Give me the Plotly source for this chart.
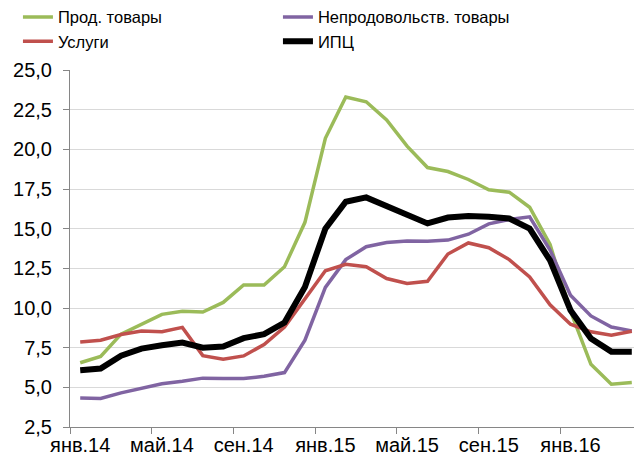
import plotly.graph_objects as go

months = ["янв.14","фев.14","мар.14","апр.14","май.14","июн.14","июл.14","авг.14","сен.14","окт.14","ноя.14","дек.14",
          "янв.15","фев.15","мар.15","апр.15","май.15","июн.15","июл.15","авг.15","сен.15","окт.15","ноя.15","дек.15",
          "янв.16","фев.16","мар.16","апр.16"]
tick_labels = ["янв.14","май.14","сен.14","янв.15","май.15","сен.15","янв.16"]

food = [6.55, 6.95, 8.35, 9.0, 9.6, 9.8, 9.75, 10.35, 11.45, 11.45, 12.6, 15.4,
        20.7, 23.3, 23.0, 21.85, 20.2, 18.85, 18.6, 18.1, 17.45, 17.3, 16.35, 14.0,
        9.8, 6.45, 5.2, 5.3]
nonfood = [4.33, 4.3, 4.65, 4.96, 5.22, 5.38, 5.58, 5.55, 5.55, 5.7, 5.93, 7.97,
           11.3, 13.05, 13.86, 14.13, 14.22, 14.2, 14.28, 14.65, 15.3, 15.58, 15.75, 13.65,
           10.8, 9.5, 8.8, 8.56]
services = [7.86, 7.97, 8.33, 8.55, 8.5, 8.78, 7.0, 6.77, 6.98, 7.7, 8.8, 10.6,
            12.35, 12.75, 12.6, 11.86, 11.54, 11.68, 13.4, 14.1, 13.8, 13.05, 11.96, 10.2,
            8.98, 8.5, 8.28, 8.54]
cpi = [6.08, 6.18, 7.0, 7.44, 7.65, 7.82, 7.5, 7.57, 8.1, 8.35, 9.08, 11.33,
       15.0, 16.7, 16.97, 16.44, 15.85, 15.33, 15.7, 15.8, 15.75, 15.64, 15.0, 13.0,
       9.86, 8.07, 7.25, 7.25]

FONT = "Liberation Sans, Arial, sans-serif"
idx = list(range(len(months)))

fig = go.Figure()
series = [
    ("Прод. товары", food, "#9BBB59", 3.5),
    ("Непродовольств. товары", nonfood, "#8064A2", 3.5),
    ("Услуги", services, "#C0504D", 3.5),
    ("ИПЦ", cpi, "#000000", 6),
]
for name, vals, col, w in series:
    fig.add_trace(go.Scatter(x=idx, y=vals, name=name, mode="lines",
                             line=dict(color=col, width=w), customdata=months,
                             hovertemplate="%{customdata}: %{y:.1f}<extra>" + name + "</extra>"))

# invisible trace on overlay axis for boundary tick marks
fig.add_trace(go.Scatter(x=[-0.5, 27.5], y=[None, None], xaxis="x2", showlegend=False, hoverinfo="skip"))

tickpos = [months.index(t) for t in tick_labels]

# page body has an 8px default margin, so the figure is sized 8px smaller
fig.update_layout(
    width=634, height=453,
    margin=dict(l=62, r=0, t=62, b=34, autoexpand=False),
    paper_bgcolor="white", plot_bgcolor="white",
    separators=", ",
    font=dict(family=FONT, size=16.5, color="#000000"),
    showlegend=True,
    legend=dict(orientation="h", x=-0.091, y=1.197,
                xanchor="left", yanchor="top", entrywidth=215, entrywidthmode="pixels",
                font=dict(family=FONT, size=16.5, color="#000000"), itemwidth=30,
                tracegroupgap=0, bgcolor="rgba(0,0,0,0)"),
    xaxis=dict(range=[-0.5, 27.5], tickmode="array", tickvals=tickpos, ticktext=tick_labels,
               ticks="", showgrid=False, zeroline=False, showline=True, linecolor="#868686",
               linewidth=1, tickfont=dict(size=20), ticklabelstandoff=0),
    xaxis2=dict(range=[-0.5, 27.5], overlaying="x", side="bottom", tickmode="array",
                tickvals=[-0.5 + 4 * k for k in range(8)], ticktext=[""] * 8,
                ticks="outside", ticklen=6, tickcolor="#868686", showgrid=False,
                zeroline=False, showline=False, showticklabels=False),
    yaxis=dict(range=[2.5, 25], tickmode="linear", tick0=2.5, dtick=2.5, tickformat=".1f",
               showgrid=True, gridcolor="#D9D9D9", gridwidth=1, zeroline=False,
               showline=True, linecolor="#868686", linewidth=1,
               ticks="outside", ticklen=6, tickcolor="#868686", ticklabelstandoff=7,
               tickfont=dict(size=20)),
)

fig.write_html("out.html")
